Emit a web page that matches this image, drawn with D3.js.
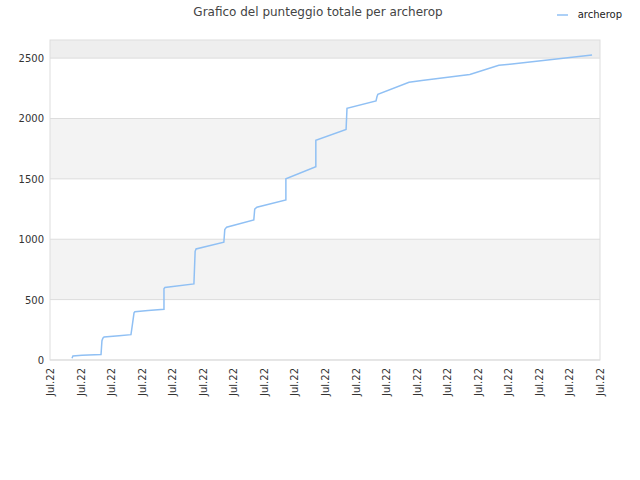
<!DOCTYPE html>
<html><head><meta charset="utf-8">
<script src="https://cdn.jsdelivr.net/npm/d3@7"></script>
<style>body{margin:0;background:#fff}text{font-family:"DejaVu Sans",sans-serif;}</style>
</head><body><div id="chart"></div>
<script>
// x positions in tick units (0..18), cumulative score
const xPos = [0.72,0.75,1.05,1.67,1.7,1.73,1.77,2.26,2.65,2.7,2.75,2.78,3.21,3.73,3.73,3.76,4.71,4.75,4.78,5.69,5.72,5.78,6.67,6.7,6.77,7.72,7.72,8.7,8.7,9.69,9.72,10.67,10.7,10.73,11.75,12.17,13.74,14.69,15.05,17.74];
const scores = [15,33,40,45,160,180,190,200,210,300,390,400,410,420,590,600,630,900,920,975,1080,1100,1160,1250,1265,1325,1500,1600,1820,1910,2085,2145,2180,2200,2300,2315,2365,2440,2450,2525];
const xTickLabels = d3.range(19).map(() => "Jul.22");
const yTicks = [0,500,1000,1500,2000,2500];

const W = 640, H = 480, m = {l:50, r:40, t:40, b:120};
const svg = d3.select("#chart").append("svg").attr("width", W).attr("height", H);
const x = d3.scaleLinear().domain([0,18]).range([m.l, W - m.r]);
const y = d3.scaleLinear().domain([0,2650]).range([H - m.b, m.t]);

// alternating bands
const bands = [[0,500,"#fff"],[500,1000,"#f3f3f3"],[1000,1500,"#fff"],[1500,2000,"#f3f3f3"],[2000,2500,"#fff"],[2500,2650,"#eeeeee"]];
svg.selectAll("rect.band").data(bands).enter().append("rect")
  .attr("x", m.l).attr("width", W - m.r - m.l)
  .attr("y", d => y(d[1])).attr("height", d => y(d[0]) - y(d[1]))
  .attr("fill", d => d[2]);
svg.selectAll("line.grid").data(yTicks).enter().append("line")
  .attr("x1", m.l).attr("x2", W - m.r).attr("y1", d => y(d)).attr("y2", d => y(d))
  .attr("stroke", "#dddddd");
svg.append("rect").attr("x", m.l).attr("y", m.t).attr("width", W - m.r - m.l).attr("height", H - m.b - m.t)
  .attr("fill", "none").attr("stroke", "#dddddd");

svg.selectAll("text.yt").data(yTicks).enter().append("text")
  .attr("x", m.l - 6).attr("y", d => y(d) + 4).attr("text-anchor", "end")
  .attr("font-size", 10).attr("fill", "#333").text(d => d);

svg.selectAll("text.xt").data(xTickLabels).enter().append("text")
  .attr("transform", (d, i) => "translate(" + (x(i) + 4) + "," + (H - m.b + 8) + ") rotate(-90)")
  .attr("text-anchor", "end").attr("font-size", 10).attr("fill", "#333").text(d => d);

const line = d3.line().x((d, i) => x(xPos[i])).y(d => y(d));
svg.append("path").datum(scores).attr("d", line)
  .attr("fill", "none").attr("stroke", "#90c0f4").attr("stroke-width", 1.5);

svg.append("text").attr("x", 318).attr("y", 16).attr("text-anchor", "middle")
  .attr("font-size", 12).attr("fill", "#444").text("Grafico del punteggio totale per archerop");
svg.append("line").attr("x1", 557).attr("x2", 568).attr("y1", 15).attr("y2", 15)
  .attr("stroke", "#90c0f4").attr("stroke-width", 1.5);
svg.append("text").attr("x", 622).attr("y", 18).attr("text-anchor", "end")
  .attr("font-size", 10).attr("fill", "#222").text("archerop");
</script></body></html>
